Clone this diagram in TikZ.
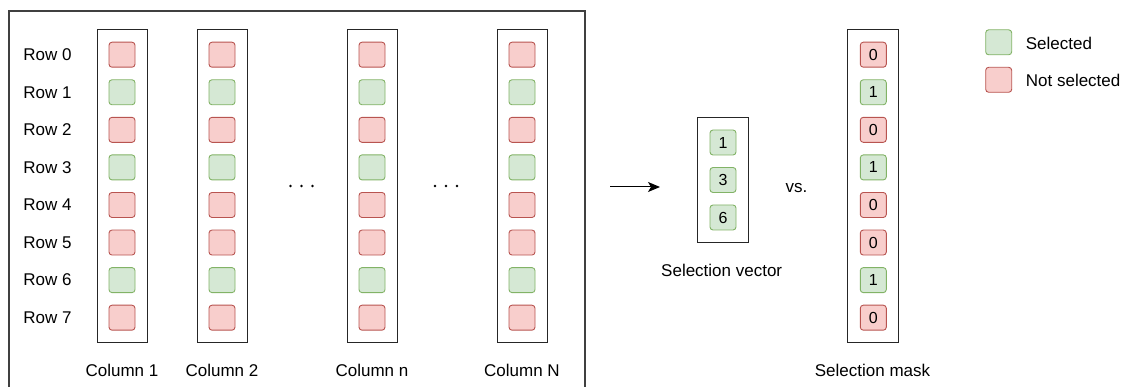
\documentclass[tikz,border=0pt]{standalone}
\usepackage{fontspec}
\setmainfont{Liberation Sans}
\usetikzlibrary{arrows.meta}
\definecolor{gfill}{HTML}{D5E8D4}
\definecolor{gdraw}{HTML}{82B366}
\definecolor{rfill}{HTML}{F8CECC}
\definecolor{rdraw}{HTML}{B85450}
\tikzset{
  cell/.style={rounded corners=3pt, minimum width=26pt, minimum height=25pt, inner sep=0pt, line width=0.9pt, font=\fontsize{16}{19}\selectfont},
  sel/.style={cell, fill=gfill, draw=gdraw},
  nsel/.style={cell, fill=rfill, draw=rdraw},
  colbox/.style={draw=black!85, line width=1pt, minimum width=50pt, inner sep=0pt},
  lbl/.style={font=\fontsize{17}{20}\selectfont, inner sep=0pt},
  dot/.style={circle, fill=black, inner sep=0pt, minimum size=2.6pt}
}
\begin{document}
\begin{tikzpicture}[x=1pt,y=-1pt]
\useasboundingbox (0,0) rectangle (1125,387);
% outer frame (bottom cut off by picture edge)
\draw[black!75, line width=1.3pt] (9,387) -- (9,11) -- (585,11) -- (585,387);
% row labels
\foreach \r in {0,...,7} {
  \node[lbl] (row\r) at (47.5, 54.7+37.57*\r) {Row \r};
}
% columns
\foreach \c/\x/\t in {1/122/Column 1, 2/222/Column 2, n/372/Column n, N/522/Column N} {
  \node[colbox, minimum height=313pt] (col\c) at (\x,186.5) {};
  \foreach \r/\s in {0/nsel,1/sel,2/nsel,3/sel,4/nsel,5/nsel,6/sel,7/nsel} {
    \node[\s] (c\c r\r) at (\x, 54.7+37.57*\r) {};
  }
  \node[lbl] (lab\c) at (\x,370) {\t};
}
% ellipsis dots
\foreach \i/\x in {1/290.5, 2/301.5, 3/312.5} { \node[dot] (da\i) at (\x,186) {}; }
\foreach \i/\x in {1/435, 2/446, 3/457} { \node[dot] (db\i) at (\x,186) {}; }
% arrow
\coordinate (as) at (610,187);
\coordinate (ae) at (660,187);
\draw[line width=1pt, -{Stealth[length=12pt,width=10pt,inset=3pt]}] (as) -- (ae);
% selection vector
\node[colbox, minimum width=51pt, minimum height=125pt] (svec) at (722.8,180) {};
\node[sel] (sv1) at (723,142.5) {1};
\node[sel] (sv3) at (723,180) {3};
\node[sel] (sv6) at (723,217.5) {6};
\node[lbl] (svlab) at (721.7,270) {Selection vector};
% vs.
\node[lbl] (vs) at (796.5,188) {vs.};
% selection mask
\node[colbox, minimum width=51pt, minimum height=313pt] (smask) at (872.8,186.5) {};
\foreach \r/\s/\v in {0/nsel/0,1/sel/1,2/nsel/0,3/sel/1,4/nsel/0,5/nsel/0,6/sel/1,7/nsel/0} {
  \node[\s] (sm\r) at (873.3, 54.7+37.57*\r) {\v};
}
\node[lbl] (smlab) at (872.5,370) {Selection mask};
% legend
\node[sel] (lg) at (998.7,42.3) {};
\node[nsel] (lr) at (998.7,79.8) {};
\node[lbl, anchor=west] (lgt) at (1025.7,43) {Selected};
\node[lbl, anchor=west] (lrt) at (1025.7,80) {Not selected};
\end{tikzpicture}
\end{document}
